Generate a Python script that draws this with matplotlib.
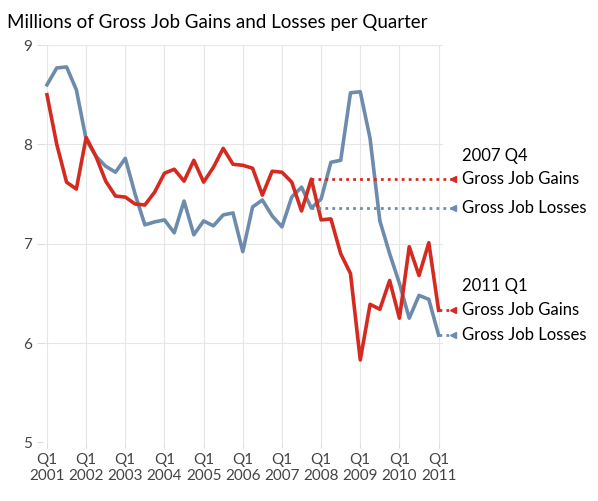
import matplotlib.pyplot as plt
import numpy as np

plt.rcParams['font.family'] = ['Lato', 'DejaVu Sans']

gains = [8.50, 8.00, 7.62, 7.55, 8.07, 7.88, 7.63, 7.48, 7.47, 7.40, 7.39, 7.52,
         7.71, 7.75, 7.63, 7.84, 7.62, 7.77, 7.96, 7.80, 7.79, 7.76, 7.49, 7.73,
         7.72, 7.62, 7.33, 7.65, 7.24, 7.25, 6.90, 6.70, 5.83, 6.39, 6.34, 6.63,
         6.25, 6.97, 6.68, 7.01, 6.33]
losses = [8.60, 8.77, 8.78, 8.55, 8.05, 7.88, 7.78, 7.72, 7.86, 7.50, 7.19, 7.22,
          7.24, 7.11, 7.43, 7.09, 7.23, 7.18, 7.29, 7.31, 6.92, 7.37, 7.44, 7.28,
          7.17, 7.47, 7.57, 7.36, 7.45, 7.82, 7.84, 8.52, 8.53, 8.06, 7.23, 6.90,
          6.60, 6.25, 6.48, 6.44, 6.08]
years = list(range(2001, 2012))

RED = '#d42a20'
BLUE = '#6d8cad'

t = 2001 + np.arange(len(gains)) / 4.0

fig = plt.figure(figsize=(5.98, 5.01), dpi=100)
ax = fig.add_axes([0.072, 0.117, 0.668, 0.793])
ax.grid(True, color='#e6e6e6', lw=0.8)
ax.set_axisbelow(True)
ax.plot(t, losses, color=BLUE, lw=2.6, solid_joinstyle='round')
ax.plot(t, gains, color=RED, lw=2.6, solid_joinstyle='round')

i07 = 27
end = 2011.38
ax.plot([t[i07], end], [gains[i07]] * 2, color=RED, lw=2, ls=(0, (1, 1.5)), clip_on=False)
ax.plot([t[i07], end], [losses[i07]] * 2, color=BLUE, lw=2, ls=(0, (1, 1.5)), clip_on=False)
ax.plot([t[-1], end], [gains[-1]] * 2, color=RED, lw=2, ls=(0, (1, 1.5)), clip_on=False)
ax.plot([t[-1], end], [losses[-1]] * 2, color=BLUE, lw=2, ls=(0, (1, 1.5)), clip_on=False)
for y, c in [(gains[i07], RED), (losses[i07], BLUE), (gains[-1], RED), (losses[-1], BLUE)]:
    ax.plot([end], [y], marker='<', color=c, ms=4, clip_on=False)

tx = 2011.6
fs = 12
ax.text(tx, 7.88, '2007 Q4', fontsize=fs, va='center')
ax.text(tx, gains[i07], 'Gross Job Gains', fontsize=fs, va='center')
ax.text(tx, losses[i07], 'Gross Job Losses', fontsize=fs, va='center')
ax.text(tx, 6.57, '2011 Q1', fontsize=fs, va='center')
ax.text(tx, gains[-1], 'Gross Job Gains', fontsize=fs, va='center')
ax.text(tx, losses[-1], 'Gross Job Losses', fontsize=fs, va='center')

ax.set_xlim(2000.9, 2011.1)
ax.set_ylim(5, 9)
ax.set_yticks([5, 6, 7, 8, 9])
ax.set_xticks(years)
ax.set_xticklabels([f'Q1\n{y}' for y in years])
for s in ax.spines.values():
    s.set_visible(False)
ax.tick_params(axis='y', length=4, color='#dddddd', labelsize=11, pad=4, labelcolor='#444444')
ax.tick_params(axis='x', length=4, color='#dddddd', labelsize=11, labelcolor='#444444')
fig.text(0.012, 0.955, 'Millions of Gross Job Gains and Losses per Quarter', fontsize=13.5, va='center')

fig.savefig('out.png', dpi=100)
